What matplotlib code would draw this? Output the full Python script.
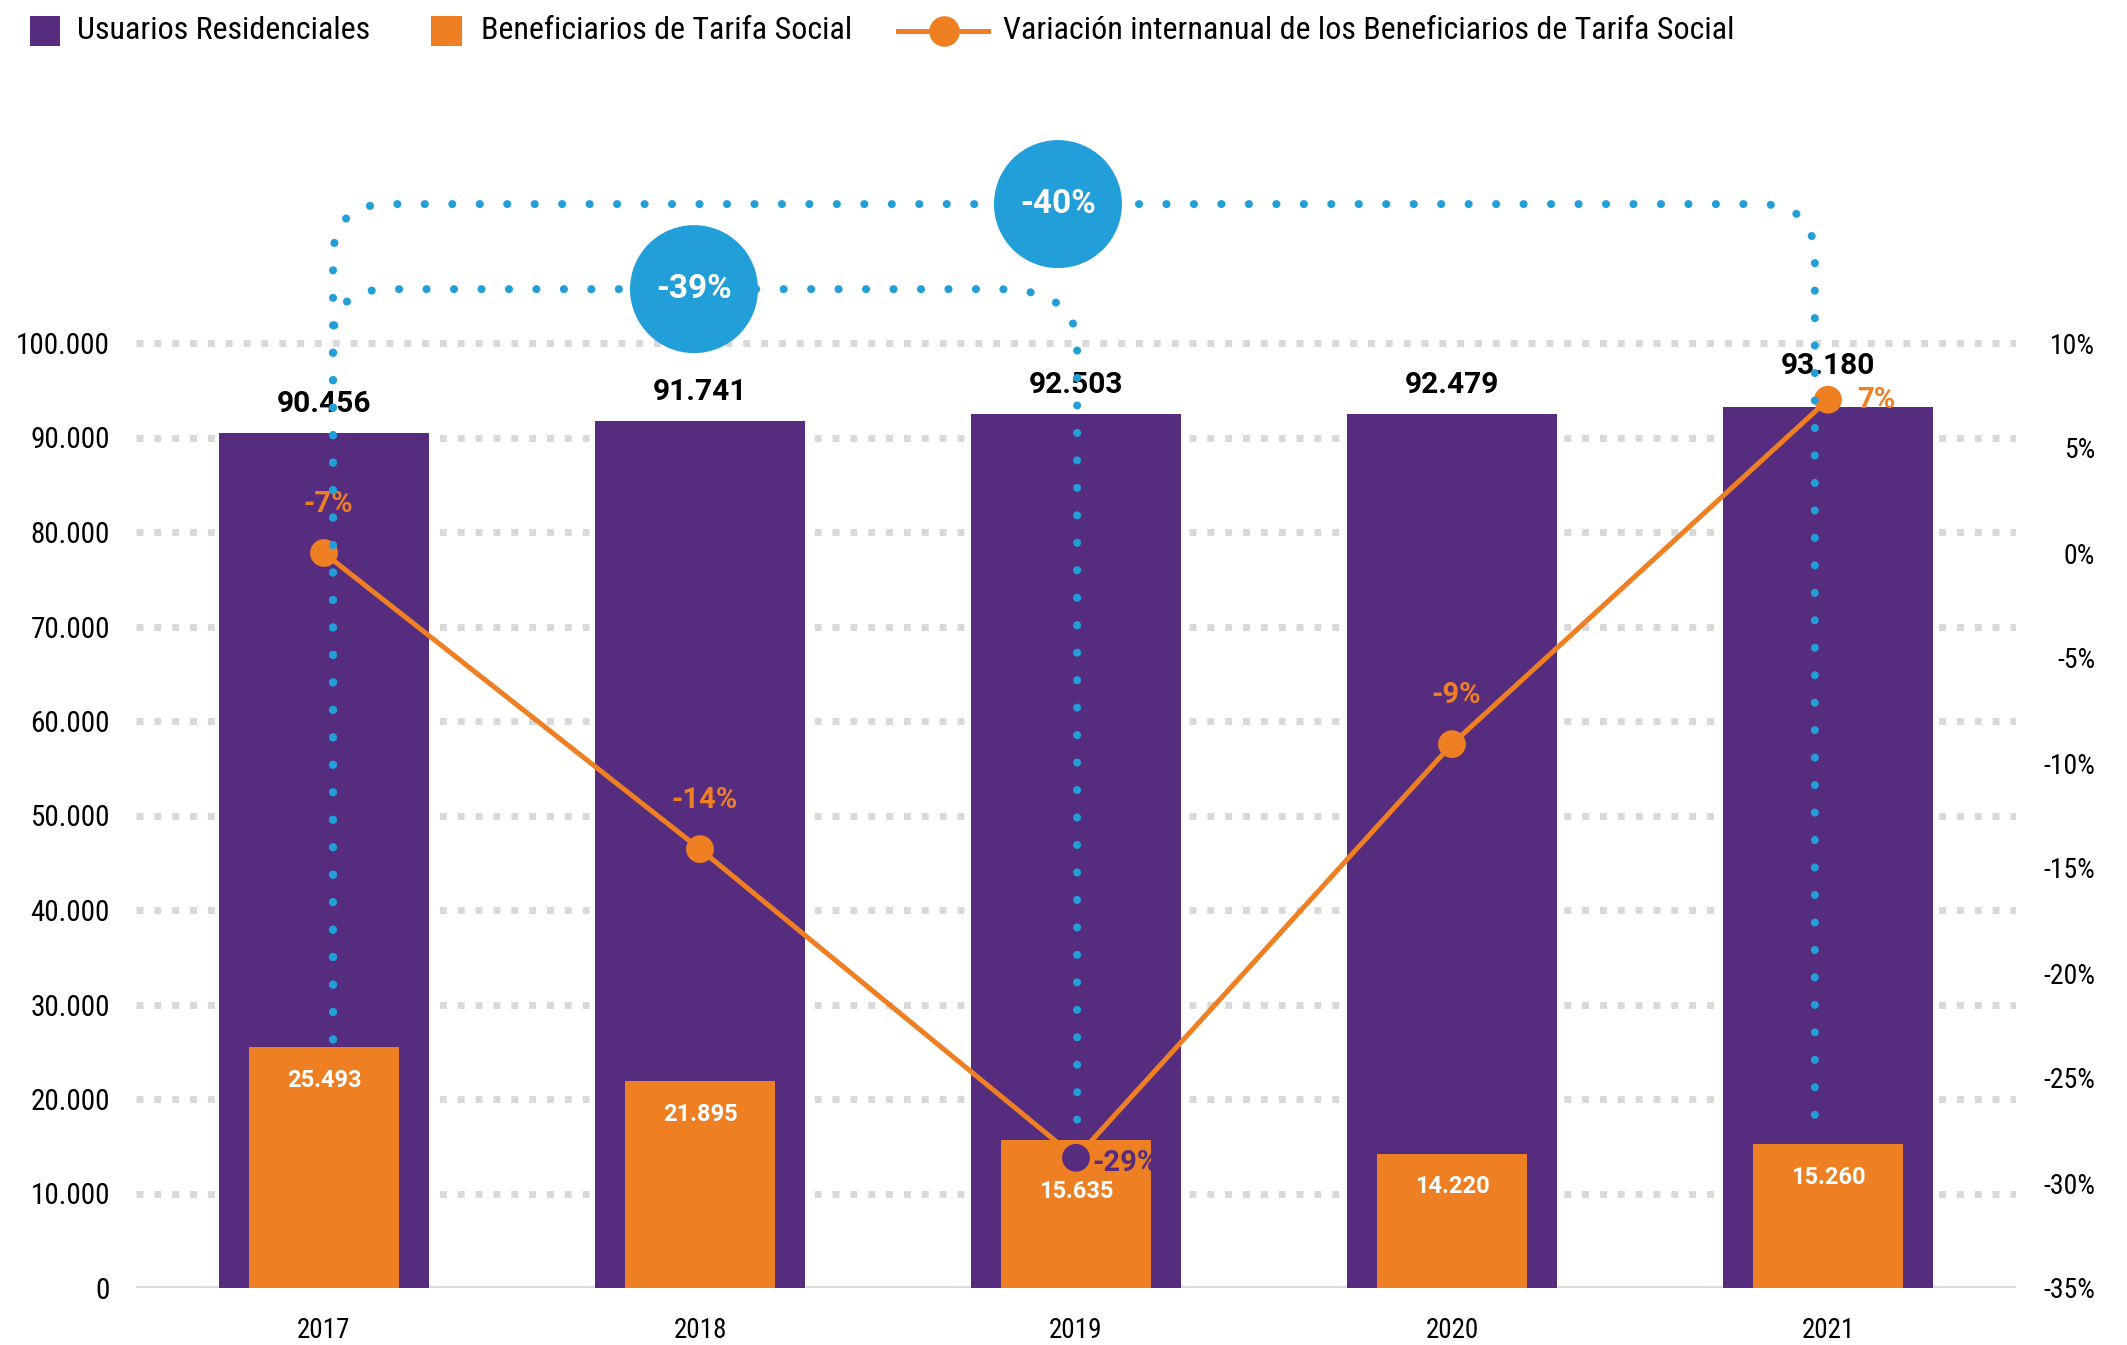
import matplotlib
matplotlib.use("Agg")
import matplotlib.pyplot as plt
import numpy as np
from matplotlib import font_manager as fm
from matplotlib.path import Path
from matplotlib.patches import PathPatch, Ellipse, Rectangle
from matplotlib.lines import Line2D
from matplotlib.transforms import ScaledTranslation

# ---------------- data ----------------
anios = ["2017", "2018", "2019", "2020", "2021"]
usuarios = [90456, 91741, 92503, 92479, 93180]
beneficiarios = [25493, 21895, 15635, 14220, 15260]
variacion = [0.0, -14.1, -28.8, -9.1, 7.3]       # plotted position (%), right axis
variacion_etiquetas = ["-7%", "-14%", "-29%", "-9%", "7%"]
ticks_izq = [0, 10000, 20000, 30000, 40000, 50000, 60000, 70000, 80000, 90000, 100000]
ticks_der = [-35, -30, -25, -20, -15, -10, -5, 0, 5, 10]
burbujas = ["-40%", "-39%"]
leyenda = ["Usuarios Residenciales", "Beneficiarios de Tarifa Social",
           "Variación internanual de los Beneficiarios de Tarifa Social"]

# ---------------- style ----------------
PURPLE = "#552C7E"
ORANGE = "#EE7F22"
BLUE = "#229FD9"
GRID = "#D9D9D9"


def available(name):
    try:
        fm.findfont(fm.FontProperties(family=name), fallback_to_default=False)
        return True
    except Exception:
        return False


cond = None
for cand in ["Roboto Condensed", "Liberation Sans Narrow"]:
    if available(cand):
        cond = cand
        break
if cond:
    NARROW = [cond, "Roboto", "DejaVu Sans"]
    K = 1.0
else:
    NARROW = ["Roboto", "DejaVu Sans"]
    K = 0.9
BOLD = ["Roboto", "DejaVu Sans"]
plt.rcParams["font.family"] = NARROW

W, H, DPI = 2127, 1345, 100
fig = plt.figure(figsize=(W / DPI, H / DPI), dpi=DPI)
fig.patch.set_facecolor("white")

ax_left, ax_right, ax_bottom, ax_top = 136, 2016, 1288, 154
ax = fig.add_axes([ax_left / W, 1 - ax_bottom / H, (ax_right - ax_left) / W, (ax_bottom - ax_top) / H])
YMAX = 120000
x = np.arange(len(anios))


def miles(v):
    return f"{v:,}".replace(",", ".")


# grid
for t in ticks_izq[1:]:
    ax.axhline(t, color=GRID, lw=5, linestyle=(0, (1, 1.57)), dash_capstyle="butt", zorder=0)
ax.axhline(0, color="#D9D9DB", lw=3.4, zorder=1)

ax.bar(x, usuarios, width=0.559, color=PURPLE, zorder=2)
ax.bar(x, beneficiarios, width=0.40, color=ORANGE, zorder=3)

desp_usu = [15, 15, 15, 15, 24]
for i, v in enumerate(usuarios):
    ax.annotate(miles(v), (x[i], v), xytext=(0, desp_usu[i]), textcoords="offset points",
                ha="center", va="baseline", fontsize=21.5, fontweight="bold",
                family=BOLD, color="black", zorder=6)

desp_benef = [-24, -24, -37, -24, -24]
for i, v in enumerate(beneficiarios):
    ax.annotate(miles(v), (x[i], v), xytext=(0, desp_benef[i]), textcoords="offset points",
                ha="center", va="center", fontsize=17, fontweight="bold",
                family=BOLD, color="white", zorder=6)

ax.set_xlim(-0.5, len(anios) - 0.5)
ax.set_ylim(0, YMAX)
ax.set_yticks(ticks_izq)
ax.set_yticklabels([miles(t) for t in ticks_izq], fontsize=21 * K)
ax.set_xticks(x)
ax.set_xticklabels(anios, fontsize=19.5 * K)
ax.tick_params(axis="y", length=0, pad=18.7)
ax.tick_params(axis="x", length=0, pad=21)
for s in ax.spines.values():
    s.set_visible(False)

# right axis
ax2 = ax.twinx()
ymin2 = ticks_der[0]
span2 = (ticks_der[-1] - ticks_der[0]) * YMAX / ticks_izq[-1]
ax2.plot(x, variacion, color=ORANGE, lw=3.6, zorder=3, solid_capstyle="round")
vmin = min(variacion)
mcolors = [PURPLE if v == vmin else ORANGE for v in variacion]
ax2.scatter(x, variacion, s=20 ** 2, c=mcolors, zorder=4, linewidths=0)

pos_etq = ["arriba", "arriba", "derecha", "arriba", "derecha"]
for i, v in enumerate(variacion):
    col = mcolors[i]
    if pos_etq[i] == "arriba":
        ax2.annotate(variacion_etiquetas[i], (x[i], v), xytext=(3, 35), textcoords="offset points",
                     ha="center", va="center", fontsize=21, fontweight="bold", family=BOLD,
                     color=col, zorder=4.5)
    else:
        dy = -4 if v == vmin else 0
        dx = 12 if v == vmin else 21
        ax2.annotate(variacion_etiquetas[i], (x[i], v), xytext=(dx, dy), textcoords="offset points",
                     ha="left", va="center", fontsize=21, fontweight="bold", family=BOLD,
                     color=col, zorder=4.5)


# connectors (in left-axis data coords)
def conector(xa, xb, ya, yb, ytop, rxa, rya, rxb, ryb):
    verts = [(xa, ya), (xa, ytop - rya), (xa, ytop), (xa + rxa, ytop),
             (xb - rxb, ytop), (xb, ytop), (xb, ytop - ryb), (xb, yb)]
    codes = [Path.MOVETO, Path.LINETO, Path.CURVE3, Path.CURVE3,
             Path.LINETO, Path.CURVE3, Path.CURVE3, Path.LINETO]
    p = PathPatch(Path(verts, codes), transform=ax.transData, fill=False,
                  edgecolor=BLUE, lw=5.8, linestyle=(0, (0.01, 3.4)), capstyle="round",
                  zorder=5, clip_on=False)
    ax2.add_patch(p)


off = {0: 0.024, 2: 0.003, 4: -0.035}
conector(x[0] + off[0], x[4] + off[4], beneficiarios[0] + 800, beneficiarios[4] + 1000,
         114700, 0.146, 5800, 0.146, 5800)
conector(x[0] + off[0], x[2] + off[2], beneficiarios[0] + 800, beneficiarios[2] + 1000,
         105700, 0.146, 5300, 0.21, 6100)

burb_pos = [(1.952, 114700), (0.984, 105700)]
for lab, (bx, by) in zip(burbujas, burb_pos):
    tr = fig.dpi_scale_trans + ScaledTranslation(bx, by, ax.transData)
    e = Ellipse((0, 0), 1.28, 1.28, transform=tr, facecolor=BLUE, edgecolor="none",
                zorder=6, clip_on=False)
    ax2.add_patch(e)
    ax2.text(bx, by, lab, transform=ax.transData, ha="center", va="center",
             fontsize=24, fontweight="bold", family=BOLD, color="white", zorder=7, clip_on=False)

ax2.set_ylim(ymin2, ymin2 + span2)
ax2.set_yticks(ticks_der)
ax2.set_yticklabels([f"{t}%" for t in ticks_der], fontsize=20 * K)
for lbl in ax2.get_yticklabels():
    lbl.set_horizontalalignment("right")
ax2.tick_params(axis="y", length=0, pad=57)
for s in ax2.spines.values():
    s.set_visible(False)
ax.set_xlim(-0.5, len(anios) - 0.5)
ax.set_ylim(0, YMAX)

# legend (figure pixel coords)
lax = fig.add_axes([0, 0, 1, 1], facecolor="none")
lax.set_xlim(0, W)
lax.set_ylim(H, 0)
lax.axis("off")
fs_leg = 23 if cond else 20.6
lax.add_patch(Rectangle((30, 16), 30, 30, facecolor=PURPLE, edgecolor="none"))
lax.text(77, 39, leyenda[0], fontsize=fs_leg, va="baseline", ha="left", color="black")
lax.add_patch(Rectangle((431, 16), 31, 30, facecolor=ORANGE, edgecolor="none"))
lax.text(481, 39, leyenda[1], fontsize=fs_leg, va="baseline", ha="left", color="black")
lax.add_line(Line2D([898, 988], [31, 31], color=ORANGE, lw=3.6))
lax.add_line(Line2D([944], [31], marker="o", markersize=22, color=ORANGE, markeredgewidth=0))
lax.text(1003, 39, leyenda[2], fontsize=fs_leg, va="baseline", ha="left", color="black")

fig.savefig("out.png", dpi=DPI, facecolor="white")
